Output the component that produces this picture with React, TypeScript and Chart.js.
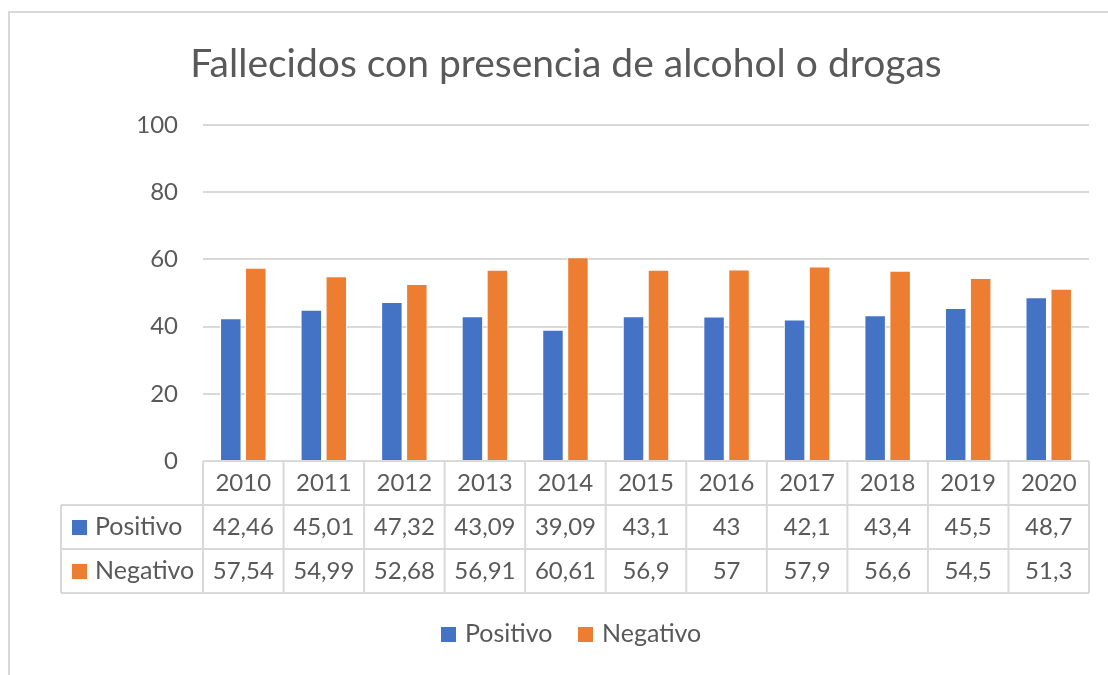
import React, { useEffect, useRef } from "react";
import { Chart, registerables } from "chart.js";

Chart.register(...registerables);

const chartTitle = "Fallecidos con presencia de alcohol o drogas";
const categories = ["2010", "2011", "2012", "2013", "2014", "2015", "2016", "2017", "2018", "2019", "2020"];
const positivo = [42.46, 45.01, 47.32, 43.09, 39.09, 43.1, 43, 42.1, 43.4, 45.5, 48.7];
const negativo = [57.54, 54.99, 52.68, 56.91, 60.61, 56.9, 57, 57.9, 56.6, 54.5, 51.3];
const seriesNames = ["Positivo", "Negativo"];
const seriesColors = ["#4472C4", "#ED7D31"];
const yMin = 0;
const yMax = 100;
const yStep = 20;

const FONT = "Lato, 'Open Sans', sans-serif";
const TEXT = "#595959";
const LINE = "#d9d9d9";

const fmt = (v: number) => String(v).replace(".", ",");

const excelPlugin = {
  id: "excelDecor",
  beforeDraw(chart: any) {
    const ctx = chart.ctx;
    ctx.save();
    ctx.fillStyle = "#ffffff";
    ctx.fillRect(0, 0, chart.width, chart.height);
    ctx.strokeStyle = LINE;
    ctx.lineWidth = 2;
    ctx.strokeRect(9, 12, chart.width + 20, chart.height + 20);
    ctx.restore();
  },
  afterDraw(chart: any) {
    const ctx = chart.ctx;
    const area = chart.chartArea;
    const xs = chart.scales.x;
    const n = categories.length;
    const colW = (area.right - area.left) / n;
    const rowH = 44;
    const top = area.bottom;
    const labelLeft = 61;
    ctx.save();

    // title
    ctx.fillStyle = TEXT;
    ctx.font = `400 39px ${FONT}`;
    ctx.textAlign = "center";
    ctx.textBaseline = "middle";
    ctx.fillText(chartTitle, 566, 64);

    // table lines
    ctx.strokeStyle = LINE;
    ctx.lineWidth = 2;
    ctx.beginPath();
    ctx.moveTo(area.left, top);
    ctx.lineTo(area.right, top);
    for (let r = 1; r <= 3; r++) {
      ctx.moveTo(labelLeft, top + r * rowH);
      ctx.lineTo(area.right, top + r * rowH);
    }
    for (let i = 0; i <= n; i++) {
      const x = area.left + i * colW;
      ctx.moveTo(x, top);
      ctx.lineTo(x, top + 3 * rowH);
    }
    ctx.moveTo(labelLeft, top + rowH);
    ctx.lineTo(labelLeft, top + 3 * rowH);
    ctx.stroke();

    // text
    ctx.fillStyle = TEXT;
    ctx.font = `24px ${FONT}`;
    ctx.textAlign = "center";
    ctx.textBaseline = "middle";
    categories.forEach((c, i) => {
      const cx = xs.getPixelForValue(i);
      ctx.fillText(c, cx, top + rowH / 2);
      ctx.fillText(fmt(positivo[i]), cx, top + rowH * 1.5);
      ctx.fillText(fmt(negativo[i]), cx, top + rowH * 2.5);
    });
    // row labels
    ctx.textAlign = "left";
    ctx.font = `25px ${FONT}`;
    seriesNames.forEach((s, r) => {
      const cy = top + rowH * (1.5 + r);
      ctx.fillStyle = seriesColors[r];
      ctx.fillRect(72, cy - 7, 15, 15);
      ctx.fillStyle = TEXT;
      ctx.fillText(s, 95, cy);
    });

    // legend
    const ly = 634;
    const legendX = [441, 578];
    seriesNames.forEach((s, r) => {
      ctx.fillStyle = seriesColors[r];
      ctx.fillRect(legendX[r], ly - 7, 15, 15);
      ctx.fillStyle = TEXT;
      ctx.fillText(s, legendX[r] + 24, ly);
    });
    ctx.restore();
  },
};

export default function App() {
  const ref = useRef<HTMLCanvasElement | null>(null);
  useEffect(() => {
    if (!ref.current) return;
    const chart = new Chart(ref.current, {
      type: "bar",
      data: {
        labels: categories,
        datasets: [
          {
            label: seriesNames[0],
            data: positivo,
            backgroundColor: seriesColors[0],
            borderColor: "#ffffff",
            borderWidth: 1,
            categoryPercentage: 0.62,
            barPercentage: 0.86,
          },
          {
            label: seriesNames[1],
            data: negativo,
            backgroundColor: seriesColors[1],
            borderColor: "#ffffff",
            borderWidth: 1,
            categoryPercentage: 0.62,
            barPercentage: 0.86,
          },
        ],
      },
      options: {
        animation: false,
        responsive: true,
        maintainAspectRatio: false,
        layout: { padding: { left: 0, top: 125, right: 19, bottom: 214 } },
        plugins: {
          legend: { display: false },
          title: { display: false },
          tooltip: { enabled: false },
        },
        scales: {
          x: { display: false },
          y: {
            min: yMin,
            max: yMax,
            ticks: {
              stepSize: yStep,
              color: TEXT,
              font: { family: FONT, size: 24 },
              padding: 25,
            },
            grid: { color: LINE, lineWidth: 2, drawTicks: false },
            border: { display: false },
            afterFit: (scale: any) => {
              scale.width = 203;
            },
          },
        },
      },
      plugins: [excelPlugin],
    });
    return () => chart.destroy();
  }, []);
  return (
    <div style={{ position: "fixed", left: 0, top: 0, width: 1108, height: 675, background: "#fff" }}>
      <canvas ref={ref} />
    </div>
  );
}
